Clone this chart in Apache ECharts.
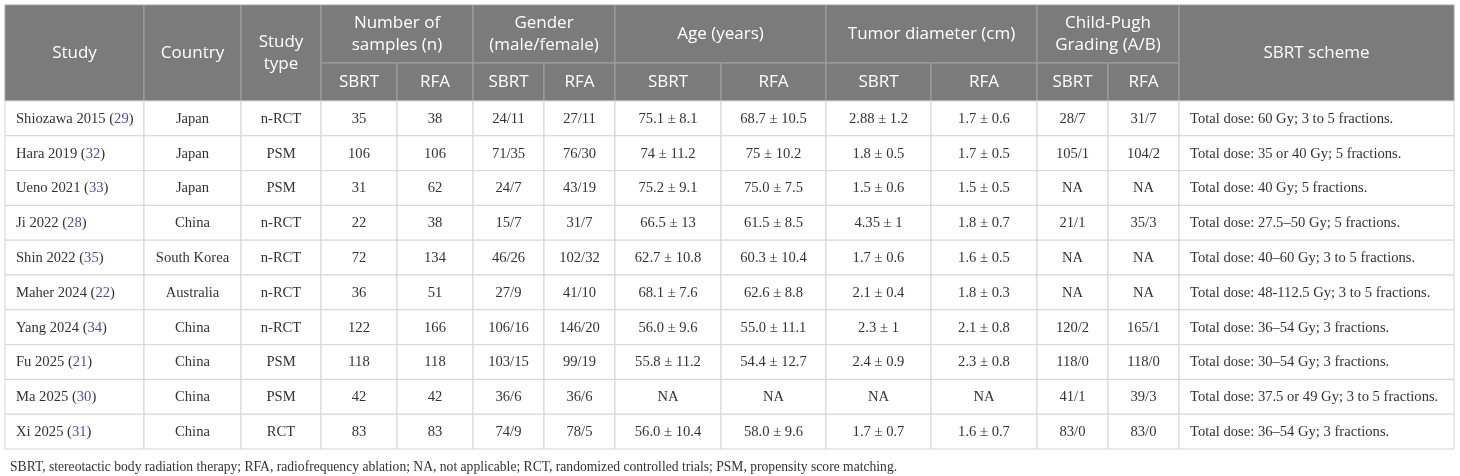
<!DOCTYPE html>
<html><head><meta charset="utf-8">
<script src="https://cdn.jsdelivr.net/npm/echarts@6/dist/echarts.min.js"></script>
<style>html,body{margin:0;padding:0;background:#fff}#c{width:1460px;height:476px}</style>
</head><body><div id="c"></div>
<script>
// ---- data ----
const studies = ['Shiozawa 2015','Hara 2019','Ueno 2021','Ji 2022','Shin 2022','Maher 2024','Yang 2024','Fu 2025','Ma 2025','Xi 2025'];
const refs = ['29','32','33','28','35','22','34','21','30','31'];
const countries = ['Japan','Japan','Japan','China','South Korea','Australia','China','China','China','China'];
const studyTypes = ['n-RCT','PSM','PSM','n-RCT','n-RCT','n-RCT','n-RCT','PSM','PSM','RCT'];
const samplesSBRT = [35,106,31,22,72,36,122,118,42,83];
const samplesRFA = [38,106,62,38,134,51,166,118,42,83];
const genderSBRT = ['24/11','71/35','24/7','15/7','46/26','27/9','106/16','103/15','36/6','74/9'];
const genderRFA = ['27/11','76/30','43/19','31/7','102/32','41/10','146/20','99/19','36/6','78/5'];
const ageSBRT = ['75.1 ± 8.1','74 ± 11.2','75.2 ± 9.1','66.5 ± 13','62.7 ± 10.8','68.1 ± 7.6','56.0 ± 9.6','55.8 ± 11.2','NA','56.0 ± 10.4'];
const ageRFA = ['68.7 ± 10.5','75 ± 10.2','75.0 ± 7.5','61.5 ± 8.5','60.3 ± 10.4','62.6 ± 8.8','55.0 ± 11.1','54.4 ± 12.7','NA','58.0 ± 9.6'];
const tumorSBRT = ['2.88 ± 1.2','1.8 ± 0.5','1.5 ± 0.6','4.35 ± 1','1.7 ± 0.6','2.1 ± 0.4','2.3 ± 1','2.4 ± 0.9','NA','1.7 ± 0.7'];
const tumorRFA = ['1.7 ± 0.6','1.7 ± 0.5','1.5 ± 0.5','1.8 ± 0.7','1.6 ± 0.5','1.8 ± 0.3','2.1 ± 0.8','2.3 ± 0.8','NA','1.6 ± 0.7'];
const childSBRT = ['28/7','105/1','NA','21/1','NA','NA','120/2','118/0','41/1','83/0'];
const childRFA = ['31/7','104/2','NA','35/3','NA','NA','165/1','118/0','39/3','83/0'];
const schemes = ['Total dose: 60 Gy; 3 to 5 fractions.','Total dose: 35 or 40 Gy; 5 fractions.','Total dose: 40 Gy; 5 fractions.','Total dose: 27.5–50 Gy; 5 fractions.','Total dose: 40–60 Gy; 3 to 5 fractions.','Total dose: 48-112.5 Gy; 3 to 5 fractions.','Total dose: 36–54 Gy; 3 fractions.','Total dose: 30–54 Gy; 3 fractions.','Total dose: 37.5 or 49 Gy; 3 to 5 fractions.','Total dose: 36–54 Gy; 3 fractions.'];
const topHeaders = ['Study','Country','Study\ntype','Number of\nsamples (n)','Gender\n(male/female)','Age (years)','Tumor diameter (cm)','Child-Pugh\nGrading (A/B)','SBRT scheme'];
const subHeaders = ['SBRT','RFA'];
const footnote = 'SBRT, stereotactic body radiation therapy; RFA, radiofrequency ablation; NA, not applicable; RCT, randomized controlled trials; PSM, propensity score matching.';

// ---- layout ----
const colEdges = [5,144,241,321,397,473,544,615,721,826,931,1037,1108,1179,1454];
const headTop = 5, headMid = 63, headBot = 101, rowH = 34.8;
const topSpans = [[0,1],[1,2],[2,3],[3,5],[5,7],[7,9],[9,11],[11,13],[13,14]];
const rowSpanTop = [true,true,true,false,false,false,false,false,true];

const bodyCols = [
  studies.map((s,i)=>'{t|'+s+' (}{r|'+refs[i]+'}{t|)}'),
  countries, studyTypes, samplesSBRT, samplesRFA, genderSBRT, genderRFA,
  ageSBRT, ageRFA, tumorSBRT, tumorRFA, childSBRT, childRFA, schemes
];
const leftAligned = {0:true,13:true};

const bodyData = [];
for (let r = 0; r < studies.length; r++) {
  for (let c = 0; c < bodyCols.length; c++) {
    bodyData.push({value:[c, r], label: String(bodyCols[c][r])});
  }
}
const headData = [];
topSpans.forEach((sp,i)=>{
  headData.push({value:[sp[0], sp[1], headTop, rowSpanTop[i] ? headBot : headMid], label: topHeaders[i]});
  if (!rowSpanTop[i]) {
    headData.push({value:[sp[0], sp[0]+1, headMid, headBot], label: subHeaders[0]});
    headData.push({value:[sp[0]+1, sp[1], headMid, headBot], label: subHeaders[1]});
  }
});

const bodyFont = '14.6px "Liberation Serif", "DejaVu Serif", serif';
const headFont = '17px "Open Sans", sans-serif';

const chart = echarts.init(document.getElementById('c'), null, {renderer:'canvas'});
chart.setOption({
  backgroundColor:'#fff',
  animation:false,
  title:{ text: footnote, left: 5, top: 455,
    textStyle:{ fontFamily:'Liberation Serif', fontSize:13.6, fontWeight:'normal', color:'#333'} },
  grid:{left:0,right:0,top:0,bottom:0},
  xAxis:{type:'value',min:0,max:1460,show:false},
  yAxis:{type:'value',min:0,max:476,inverse:true,show:false},
  series:[
    {
      type:'custom', coordinateSystem:'cartesian2d', data: headData, silent:true,
      renderItem:function(params, api){
        const d = headData[params.dataIndex];
        const p0 = api.coord([colEdges[d.value[0]], d.value[2]]);
        const p1 = api.coord([colEdges[d.value[1]], d.value[3]]);
        return {type:'group', children:[
          {type:'rect', shape:{x:p0[0], y:p0[1], width:p1[0]-p0[0], height:p1[1]-p0[1]},
            style:{fill:'#7b7b7b', stroke:'#a2a2a2', lineWidth:1}},
          {type:'text', style:{text:d.label, x:(p0[0]+p1[0])/2, y:(p0[1]+p1[1])/2,
            align:'center', verticalAlign:'middle', font:headFont, fill:'#fff', lineHeight:22}}
        ]};
      }
    },
    {
      type:'custom', coordinateSystem:'cartesian2d', data: bodyData, silent:true,
      renderItem:function(params, api){
        const d = bodyData[params.dataIndex];
        const c = d.value[0], r = d.value[1];
        const p0 = api.coord([colEdges[c], headBot + r*rowH]);
        const p1 = api.coord([colEdges[c+1], headBot + (r+1)*rowH]);
        const left = !!leftAligned[c];
        return {type:'group', children:[
          {type:'rect', shape:{x:p0[0], y:p0[1], width:p1[0]-p0[0], height:p1[1]-p0[1]},
            style:{fill:'#fff', stroke:'#d5d5d5', lineWidth:1}},
          {type:'text', style:{text:d.label, x: left ? p0[0]+11 : (p0[0]+p1[0])/2, y:(p0[1]+p1[1])/2 + 0.5,
            align: left ? 'left' : 'center', verticalAlign:'middle', font:bodyFont, fill:'#333',
            rich:{ t:{font:bodyFont, fill:'#333'}, r:{font:bodyFont, fill:'#4b4f9e'} }}}
        ]};
      }
    }
  ]
});
</script></body></html>
